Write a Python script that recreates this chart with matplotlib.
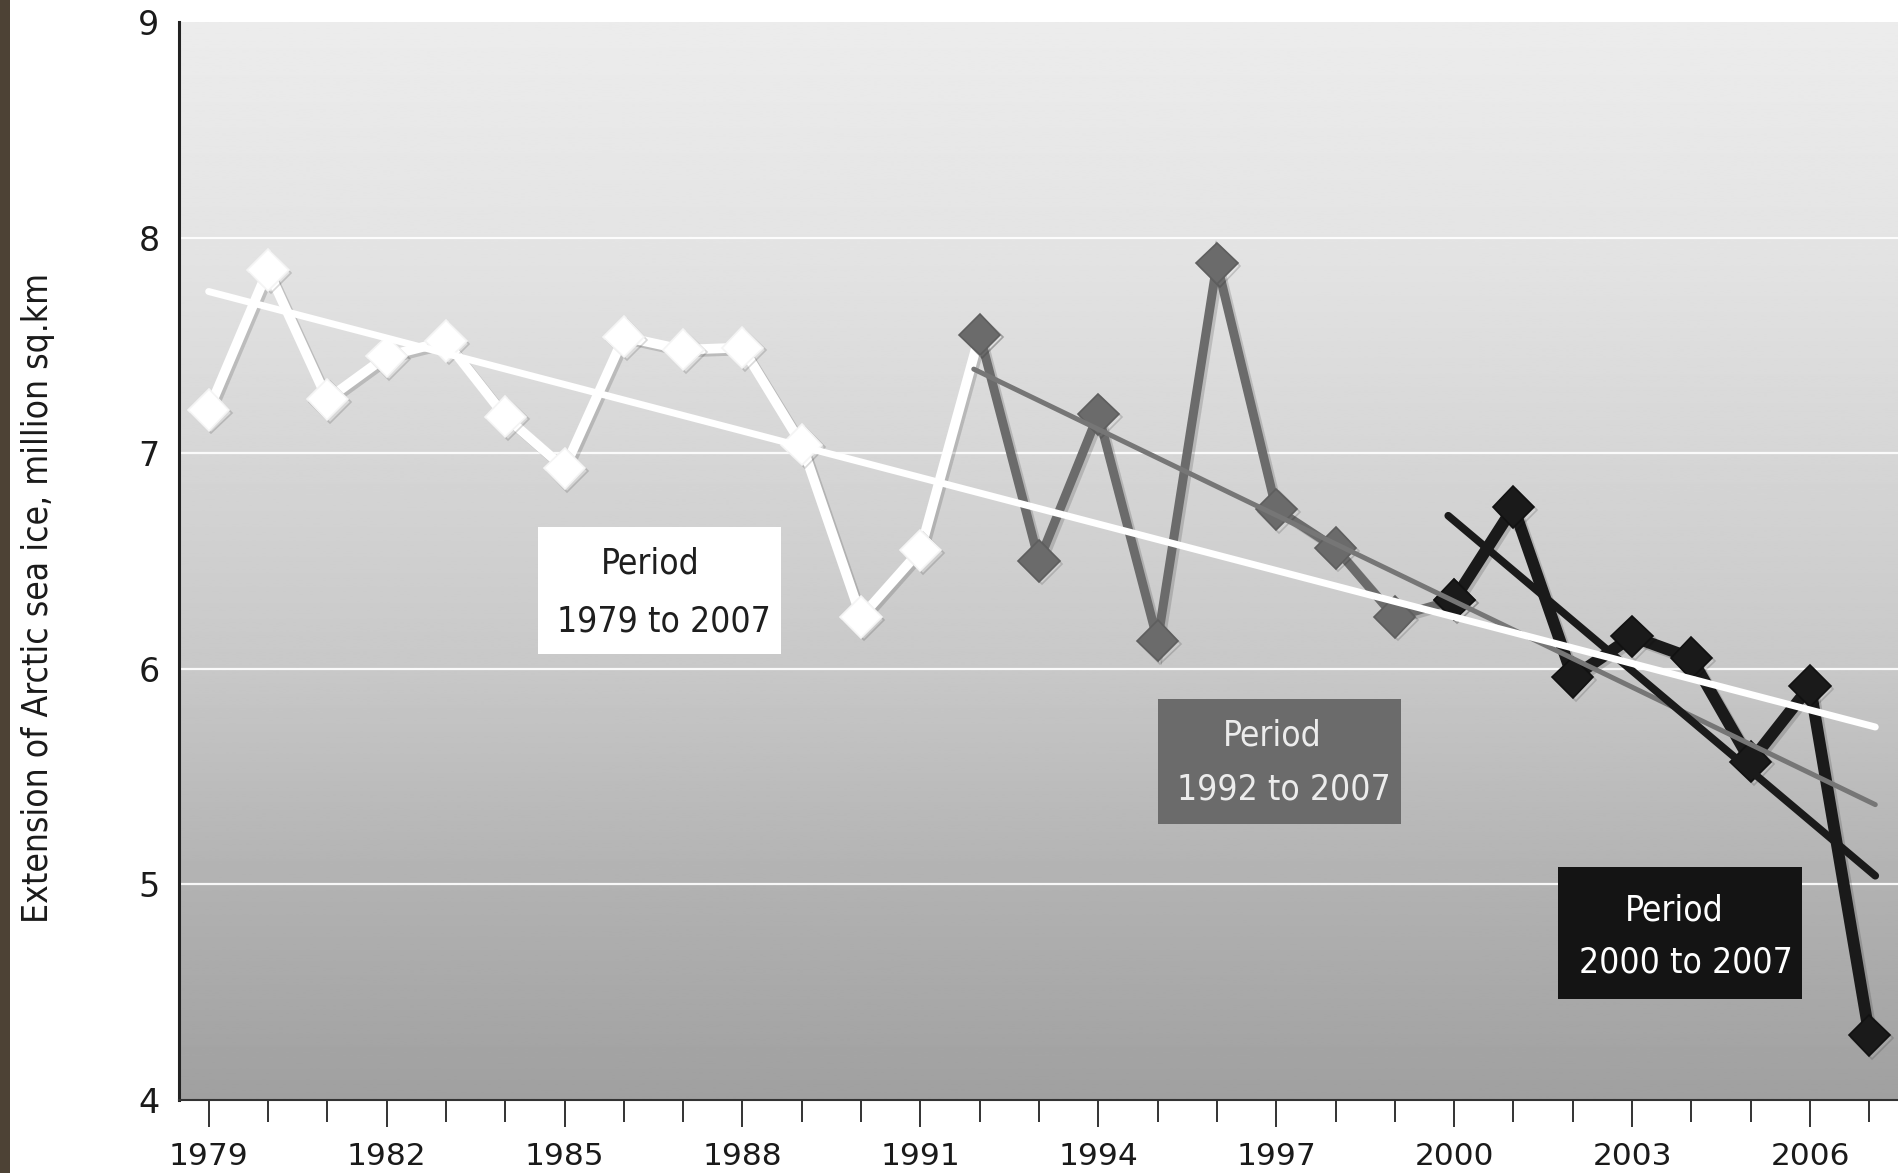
import numpy as np
import matplotlib.pyplot as plt
from matplotlib.patches import Rectangle
from matplotlib import font_manager as fm
import matplotlib.patheffects as pe

# September extent of Arctic sea ice (million sq.km)
years = list(range(1979, 2008))
extent = [7.20, 7.85, 7.25, 7.45, 7.52, 7.17, 6.93, 7.54, 7.48, 7.49,
          7.04, 6.24, 6.55, 7.55, 6.50, 7.18, 6.13, 7.88, 6.74, 6.56,
          6.24, 6.32, 6.75, 5.96, 6.15, 6.05, 5.57, 5.92, 4.30]

# trend lines (start, end) as drawn
trend_white_x = [1979.0, 2007.1]
trend_white_y = [7.75, 5.73]
trend_gray_x = [1991.9, 2007.1]
trend_gray_y = [7.39, 5.37]
trend_black_x = [1999.9, 2007.1]
trend_black_y = [6.71, 5.04]

tick_years = list(range(1979, 2007, 3))
yticks = [4, 5, 6, 7, 8, 9]

# look for a narrow font (the original uses a condensed face)
narrow = None
scale = 1.0
files = [f.fname for f in fm.fontManager.ttflist]
for key, sc in [('LiberationSansNarrow-Regular', 1.0), ('DejaVuSansCondensed.ttf', 0.82)]:
    hit = [f for f in files if key in f]
    if hit:
        narrow = fm.FontProperties(fname=hit[0])
        scale = sc
        break
if narrow is None:
    narrow = fm.FontProperties(family='Roboto')
    scale = 0.8

W, H = 1899, 1173
fig = plt.figure(figsize=(W/100, H/100), dpi=100, facecolor='white')
ax = fig.add_axes([179/W, 73/H, 1720/W, 1078/H])
ax.set_xlim(1978.5, 2007.5)
ax.set_ylim(4, 9)

# gradient background
levels = np.array([160, 178, 200, 214, 228, 236]) / 255.
yy = np.linspace(4, 9, 400)
shade = np.interp(yy, [4, 5, 6, 7, 8, 9], levels)
grad = np.repeat(shade[:, None], 2, axis=1)
ax.imshow(grad, extent=[1978.5, 2007.5, 4, 9], origin='lower', cmap='gray',
          vmin=0, vmax=1, aspect='auto', zorder=0)

for g in [5, 6, 7, 8]:
    ax.axhline(g, color='white', lw=1.6, zorder=1, alpha=0.9)

shadow = [pe.SimpleLineShadow(offset=(2, -2), alpha=0.15, shadow_color='k'), pe.Normal()]

def series(i0, i1, color, lw, ec, z):
    ax.plot(years[i0:i1], extent[i0:i1], color=color, lw=lw, marker='D',
            markersize=21, markerfacecolor=color, markeredgecolor=ec,
            markeredgewidth=1.2, zorder=z, solid_joinstyle='miter',
            path_effects=shadow)

series(0, 14, 'white', 7, '#f4f4f4', 3)
series(13, 22, '#6b6b6b', 6.5, '#5e5e5e', 4)
series(21, 29, '#1a1a1a', 8.5, '#111111', 5)

ax.plot(trend_gray_x, trend_gray_y, color='#767676', lw=3.6, zorder=6,
        solid_capstyle='round')
ax.plot(trend_black_x, trend_black_y, color='#1a1a1a', lw=5.5, zorder=7,
        solid_capstyle='round')
ax.plot(trend_white_x, trend_white_y, color='white', lw=5, zorder=8,
        solid_capstyle='round')

# period boxes: x0, y0, width, height, face, text colour, line 1 centre, line 2 centre
boxes = [
    (1984.55, 6.07, 4.1, 0.59, 'white', '#1e1e1e', (1986.44, 6.49), (1986.68, 6.22), '1979 to 2007'),
    (1995.01, 5.28, 4.1, 0.58, '#6b6b6b', '#ececec', (1996.93, 5.69), (1997.13, 5.44), '1992 to 2007'),
    (2001.75, 4.47, 4.12, 0.61, '#141414', 'white', (2003.71, 4.88), (2003.90, 4.64), '2000 to 2007'),
]
for x0, y0, w, h, fc, tc, p1, p2, t2 in boxes:
    ax.add_patch(Rectangle((x0, y0), w, h, facecolor=fc, edgecolor='none', zorder=9))
    ax.text(p1[0], p1[1], 'Period', ha='center', va='center', color=tc, zorder=10,
            fontproperties=narrow, fontsize=31*scale)
    ax.text(p2[0], p2[1], t2, ha='center', va='center', color=tc, zorder=10,
            fontproperties=narrow, fontsize=31*scale)

# axes styling
for s in ['top', 'right']:
    ax.spines[s].set_visible(False)
ax.spines['left'].set_color('#222222')
ax.spines['left'].set_linewidth(2.2)
ax.spines['bottom'].set_color('#333333')
ax.spines['bottom'].set_linewidth(1.5)

ax.set_xticks(tick_years)
ax.set_xticklabels([str(y) for y in tick_years], fontsize=22.5, color='#1a1a1a')
ax.set_xticks(years, minor=True)
ax.tick_params(axis='x', which='major', direction='out', length=19.5, width=1.4,
               color='#333333', pad=11)
ax.tick_params(axis='x', which='minor', direction='out', length=16, width=1.4,
               color='#333333')
ax.set_yticks(yticks)
ax.set_yticklabels([str(v) for v in yticks], fontsize=24, color='#1a1a1a')
ax.tick_params(axis='y', length=0, pad=14)

fig.text(38/W, 1 - 598/H, 'Extension of Arctic sea ice, million sq.km', rotation=90,
         ha='center', va='center', color='#1a1a1a',
         fontproperties=narrow, fontsize=31*scale)

fig.patches.append(Rectangle((0, 0), 10/W, 1, transform=fig.transFigure,
                             facecolor='#4d4235', edgecolor='none'))

fig.savefig('out.png', dpi=100, facecolor='white')
